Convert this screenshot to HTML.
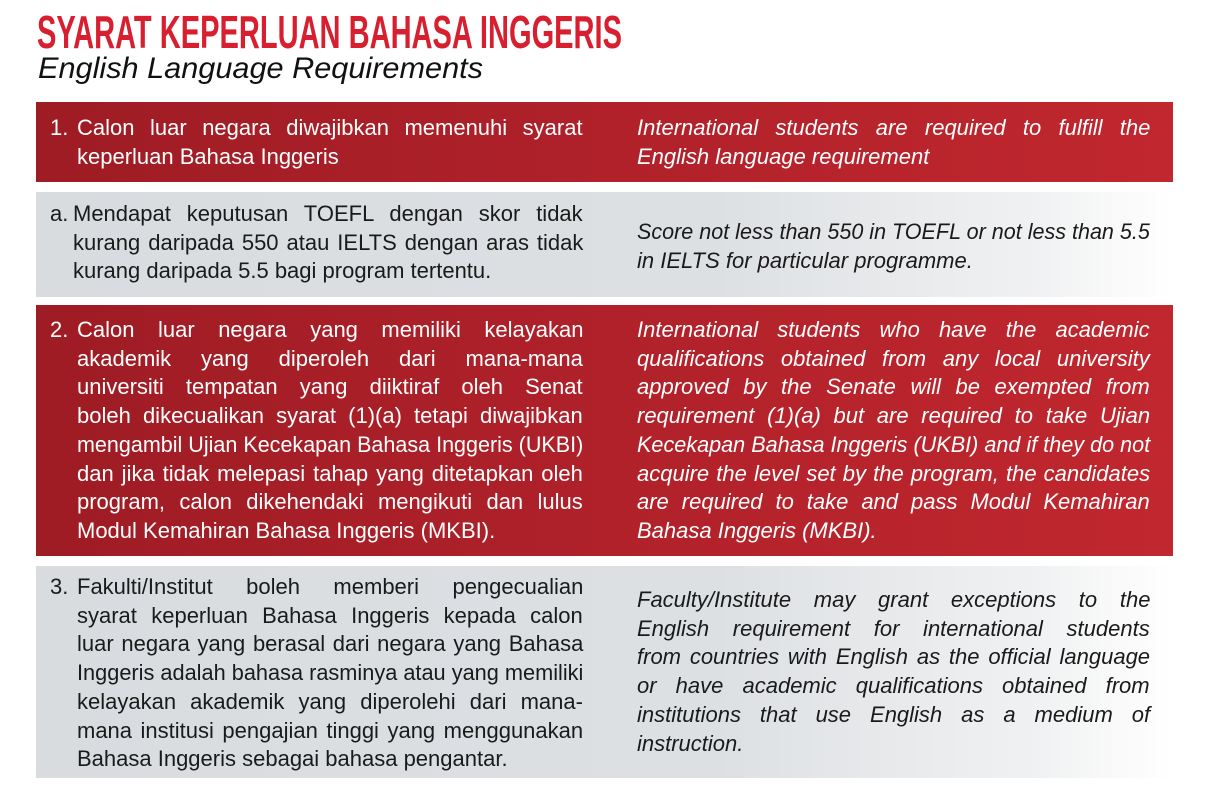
<!DOCTYPE html>
<html><head><meta charset="utf-8">
<style>
html,body{margin:0;padding:0;background:#fff;}
body{width:1220px;height:798px;position:relative;overflow:hidden;font-family:"Liberation Sans",sans-serif;}
.box{position:absolute;left:36px;width:1137px;}
.red{background:linear-gradient(90deg,#9e1c24 0%,#b0212a 50%,#c1272e 100%);color:#fff;}
.gray{background:linear-gradient(90deg,#d8dcdf 0%,#dde0e3 60%,#f0f1f2 88%,#ffffff 100%);color:#1a1a1a;}
.ln{position:absolute;height:28px;line-height:28px;font-size:22px;white-space:nowrap;transform-origin:left center;}
.it{font-style:italic;}
.num{position:absolute;height:28px;line-height:28px;font-size:22px;}
</style></head>
<body>
<svg style="position:absolute;left:0;top:0" width="1220" height="100">
<text x="37" y="48" textLength="585" lengthAdjust="spacingAndGlyphs" font-family="Liberation Sans" font-weight="bold" font-size="46" fill="#d71f30">SYARAT KEPERLUAN BAHASA INGGERIS</text>
<text x="38" y="78" textLength="445" lengthAdjust="spacingAndGlyphs" font-family="Liberation Sans" font-style="italic" font-size="30" fill="#111">English Language Requirements</text>
</svg>

<div class="box red" style="top:102px;height:80px"></div>
<div class="box gray" style="top:192px;height:105px"></div>
<div class="box red" style="top:305px;height:251px"></div>
<div class="box gray" style="top:566px;height:212px"></div>

<div id="content"></div>

<script>
const rows = [
 {num:"1.", nx:50, color:"#fff", left:{x:77,w:506,y0:128,lines:["Calon luar negara diwajibkan memenuhi syarat","keperluan Bahasa Inggeris"],j:[1,0]},
  right:{x:637,w:513,y0:128,lines:["International students are required to fulfill the","English language requirement"],j:[1,0]}},
 {num:"a.", nx:50, color:"#1a1a1a", left:{x:73,w:510,y0:214,lines:["Mendapat keputusan TOEFL dengan skor tidak","kurang daripada 550 atau IELTS  dengan aras tidak","kurang daripada 5.5 bagi program tertentu."],j:[1,1,0]},
  right:{x:637,w:513,y0:232,lines:["Score not less than 550 in TOEFL or not less than 5.5","in IELTS for particular programme."],j:[1,0]}},
 {num:"2.", nx:50, color:"#fff", left:{x:77,w:506,y0:330,lines:["Calon luar negara yang memiliki kelayakan","akademik yang diperoleh dari  mana-mana","universiti tempatan yang diiktiraf oleh Senat","boleh dikecualikan syarat (1)(a) tetapi diwajibkan","mengambil Ujian Kecekapan Bahasa Inggeris (UKBI)","dan jika tidak melepasi tahap yang ditetapkan oleh","program, calon dikehendaki mengikuti dan lulus","Modul Kemahiran Bahasa Inggeris (MKBI)."],j:[1,1,1,1,1,1,1,0]},
  right:{x:637,w:513,y0:330,lines:["International students who have the academic","qualifications obtained from any local university","approved by the Senate will be exempted from","requirement (1)(a) but are required to take Ujian","Kecekapan Bahasa Inggeris (UKBI) and if they do not","acquire the level set by the program, the candidates","are required to take and pass Modul Kemahiran","Bahasa Inggeris (MKBI)."],j:[1,1,1,1,1,1,1,0]}},
 {num:"3.", nx:50, color:"#1a1a1a", left:{x:77,w:506,y0:587,lines:["Fakulti/Institut boleh memberi pengecualian","syarat keperluan Bahasa Inggeris  kepada calon","luar negara yang berasal dari negara yang Bahasa","Inggeris adalah bahasa rasminya atau yang memiliki","kelayakan akademik yang diperolehi dari mana-","mana institusi pengajian tinggi yang menggunakan","Bahasa Inggeris sebagai bahasa pengantar."],j:[1,1,1,1,1,1,0]},
  right:{x:637,w:513,y0:600,lines:["Faculty/Institute may grant exceptions to the","English requirement for international students","from countries with English as the official language","or have academic qualifications obtained from","institutions that use English  as a medium of","instruction."],j:[1,1,1,1,1,0]}}
];
const LH = 28.7;
const c = document.getElementById('content');
rows.forEach((r,ri)=>{
  const n = document.createElement('div');
  n.className='num';
  
  
  n.textContent=r.num;
  n.style.left=r.nx+'px'; n.style.top=(r.left.y0-14)+'px'; n.style.color=r.color;
  c.appendChild(n);
  [['left',false],['right',true]].forEach(([side,ital])=>{
    const col=r[side];
    col.lines.forEach((t,i)=>{
      const d=document.createElement('div');
      d.className='ln'+(ital?' it':'');
      
      
      d.textContent=t.replace(/\s+/g,' ');
      d.style.left=col.x+'px';
      d.style.top=(col.y0-14+i*LH)+'px';
      d.style.color=r.color;
      c.appendChild(d);
      const w=d.scrollWidth;
      const spaces=(d.textContent.match(/ /g)||[]).length;
      if(w>col.w){
        d.style.transform='scaleX('+(col.w/w)+')';
      } else if(col.j[i] && spaces>0){
        d.style.wordSpacing=((col.w-w)/spaces)+'px';
      }
    });
  });
});
</script>
</body></html>
